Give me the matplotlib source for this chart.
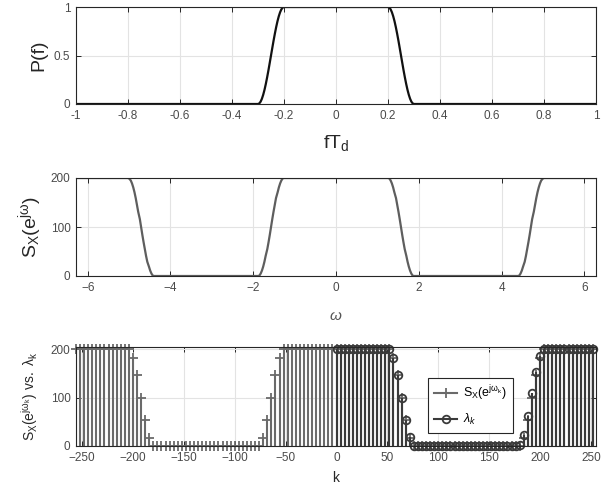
import numpy as np
import matplotlib
matplotlib.use("Agg")
import matplotlib.pyplot as plt
from matplotlib.lines import Line2D
from matplotlib.legend_handler import HandlerLine2D

plt.rcParams['font.family'] = ['Liberation Sans', 'DejaVu Sans']
plt.rcParams['mathtext.fontset'] = 'custom'
plt.rcParams['mathtext.rm'] = 'Liberation Sans'
plt.rcParams['mathtext.it'] = 'Liberation Sans:italic'
plt.rcParams['mathtext.sf'] = 'Liberation Sans'

# raised-cosine pulse spectrum P(f) against normalised frequency fT_d
f_edge_neg = [-0.300, -0.295, -0.290, -0.285, -0.280, -0.275, -0.270, -0.265,
              -0.260, -0.255, -0.250, -0.245, -0.240, -0.235, -0.230, -0.225,
              -0.220, -0.215, -0.210, -0.205, -0.200]
f_edge_pos = [0.200, 0.205, 0.210, 0.215, 0.220, 0.225, 0.230, 0.235, 0.240,
              0.245, 0.250, 0.255, 0.260, 0.265, 0.270, 0.275, 0.280, 0.285,
              0.290, 0.295, 0.300]
p_rise = [0.0, 0.006, 0.024, 0.054, 0.095, 0.146, 0.206, 0.273, 0.345, 0.422,
          0.5, 0.578, 0.655, 0.727, 0.794, 0.854, 0.905, 0.946, 0.976, 0.994, 1.0]
p_fall = p_rise[::-1]

# power spectrum S_X(e^{jw}) over two periods
w_edge1 = [-5.03, -5.00, -4.96, -4.93, -4.90, -4.87, -4.84, -4.81, -4.78, -4.74,
           -4.71, -4.68, -4.65, -4.62, -4.59, -4.56, -4.52, -4.49, -4.46, -4.43, -4.40]
w_edge2 = [-1.88, -1.85, -1.82, -1.79, -1.76, -1.73, -1.70, -1.66, -1.63, -1.60,
           -1.57, -1.54, -1.51, -1.48, -1.45, -1.41, -1.38, -1.35, -1.32, -1.29, -1.26]
w_edge3 = [1.26, 1.29, 1.32, 1.35, 1.38, 1.41, 1.45, 1.48, 1.51, 1.54,
           1.57, 1.60, 1.63, 1.66, 1.70, 1.73, 1.76, 1.79, 1.82, 1.85, 1.88]
w_edge4 = [4.40, 4.43, 4.46, 4.49, 4.52, 4.56, 4.59, 4.62, 4.65, 4.68,
           4.71, 4.74, 4.78, 4.81, 4.84, 4.87, 4.90, 4.93, 4.96, 5.00, 5.03]
sx_rise = [0, 1, 5, 11, 19, 29, 41, 55, 69, 84, 100, 116, 131, 145, 159, 171,
           181, 189, 195, 199, 200]
sx_fall = sx_rise[::-1]

# sampled spectrum S_X(e^{jw_k}), k = -256, -252, ..., 252
k_sx = np.arange(-256, 256, 4)
sx_k = ([200] * 14 + [183, 147, 100, 53, 17] + [0] * 27
        + [17, 53, 100, 147, 183] + [200] * 27
        + [183, 147, 100, 53, 17] + [0] * 27
        + [17, 53, 100, 147, 183] + [200] * 13)

# eigenvalues lambda_k, k = 0, 4, ..., 252
k_lam = np.arange(0, 256, 4)
lam_k = ([200] * 14 + [182, 147, 99, 54, 19, 1] + [0] * 25
         + [2, 23, 62, 110, 154, 187] + [200] * 13)

AX_COLOR = '#262626'
TICK_COLOR = '#4a4a4a'
GRID_COLOR = '#e3e3e3'
SX_COLOR = '#6a6a6a'
LAM_COLOR = '#3a3a3a'


class EndMarkerHandler(HandlerLine2D):
    """Legend line with the marker sitting at its right end."""
    def get_xdata(self, legend, xdescent, ydescent, width, height, fontsize):
        xdata = np.array([-xdescent, -xdescent + width])
        return xdata, xdata[-1:]


def style_axes(ax):
    ax.grid(True, color=GRID_COLOR, linewidth=0.8)
    ax.set_axisbelow(True)
    for sp in ax.spines.values():
        sp.set_color(AX_COLOR)
        sp.set_linewidth(0.8)
    ax.tick_params(direction='in', top=True, right=True, length=3.5,
                   width=0.7, color=AX_COLOR, labelsize=8.5,
                   labelcolor=TICK_COLOR, pad=4)


fig = plt.figure(figsize=(6.11, 4.91), dpi=100)
left, width = 76 / 611, 520 / 611
ax1 = fig.add_axes([left, 1 - 104 / 491, width, 97 / 491])
ax2 = fig.add_axes([left, 1 - 276 / 491, width, 98 / 491])
ax3 = fig.add_axes([left, 1 - 446 / 491, width, 99 / 491])

# P(f)
f_all = [-1.0] + f_edge_neg + f_edge_pos + [1.0]
p_all = [0.0] + p_rise + p_fall + [0.0]
ax1.plot(f_all, p_all, color='#111111', linewidth=1.6)
ax1.set_xlim(-1, 1)
ax1.set_ylim(0, 1)
ax1.set_xticks(np.arange(-1, 1.01, 0.2))
ax1.set_xticklabels(['-1', '-0.8', '-0.6', '-0.4', '-0.2', '0',
                     '0.2', '0.4', '0.6', '0.8', '1'])
ax1.set_yticks([0, 0.5, 1])
ax1.set_yticklabels(['0', '0.5', '1'])
style_axes(ax1)
ax1.set_ylabel('P(f)', fontsize=14, color=AX_COLOR)
ax1.set_xlabel(r'$\mathrm{fT_d}$', fontsize=14, color=AX_COLOR, labelpad=8)
ax1.yaxis.set_label_coords(-0.055, 0.5)

# S_X(e^{jw})
w_all = [-2 * np.pi] + w_edge1 + w_edge2 + w_edge3 + w_edge4 + [2 * np.pi]
sx_all = [200] + sx_fall + sx_rise + sx_fall + sx_rise + [200]
ax2.plot(w_all, sx_all, color='#5e5e5e', linewidth=1.6)
ax2.set_xlim(-2 * np.pi, 2 * np.pi)
ax2.set_ylim(0, 200)
ax2.set_xticks([-6, -4, -2, 0, 2, 4, 6])
ax2.set_yticks([0, 100, 200])
style_axes(ax2)
ax2.set_ylabel(r'$\mathrm{S_X(e^{j\omega})}$', fontsize=14, color=AX_COLOR)
ax2.set_xlabel(r'$\omega$', fontsize=11, color='#555555', labelpad=11)
ax2.yaxis.set_label_coords(-0.062, 0.5)

# sampled spectrum against eigenvalues
sx_stem = ax3.stem(k_sx, sx_k, linefmt='-', markerfmt='+', basefmt=' ')
sx_stem.stemlines.set_color(SX_COLOR)
sx_stem.stemlines.set_linewidth(1.5)
sx_stem.markerline.set_color(SX_COLOR)
sx_stem.markerline.set_markersize(6.5)
sx_stem.markerline.set_markeredgewidth(1.3)
sx_stem.markerline.set_clip_on(False)

lam_stem = ax3.stem(k_lam, lam_k, linefmt='-', markerfmt='o', basefmt=' ')
lam_stem.stemlines.set_color(LAM_COLOR)
lam_stem.stemlines.set_linewidth(1.5)
lam_stem.markerline.set_color(LAM_COLOR)
lam_stem.markerline.set_markerfacecolor('none')
lam_stem.markerline.set_markersize(5.5)
lam_stem.markerline.set_markeredgewidth(1.3)
lam_stem.markerline.set_clip_on(False)

ax3.set_xlim(-256, 255)
ax3.set_ylim(0, 205)
ax3.set_xticks(np.arange(-250, 251, 50))
ax3.set_yticks([0, 100, 200])
style_axes(ax3)
ax3.set_ylabel(r'$\mathrm{S_X(e^{j\omega_k})\ vs.\ \lambda_k}$', fontsize=10,
               color=AX_COLOR)
ax3.set_xlabel('k', fontsize=10, color=AX_COLOR, labelpad=5)
ax3.yaxis.set_label_coords(-0.07, 0.5)

h_sx = Line2D([], [], color=SX_COLOR, linewidth=1.5, marker='+',
              markersize=6.5, markeredgewidth=1.3)
h_lam = Line2D([], [], color=LAM_COLOR, linewidth=1.5, marker='o',
               markerfacecolor='none', markersize=5.5, markeredgewidth=1.3)
leg = ax3.legend([h_sx, h_lam],
                 [r'$\mathrm{S_X(e^{j\omega_k})}$', r'$\lambda_k$'],
                 handler_map={Line2D: EndMarkerHandler()},
                 loc='upper left', bbox_to_anchor=(0.665, 0.755),
                 fontsize=9, fancybox=False, framealpha=1,
                 edgecolor=AX_COLOR, handlelength=1.8, handletextpad=0.5,
                 borderpad=0.5, labelspacing=0.7)
leg.get_frame().set_linewidth(0.8)

fig.savefig('out.png', dpi=100)
